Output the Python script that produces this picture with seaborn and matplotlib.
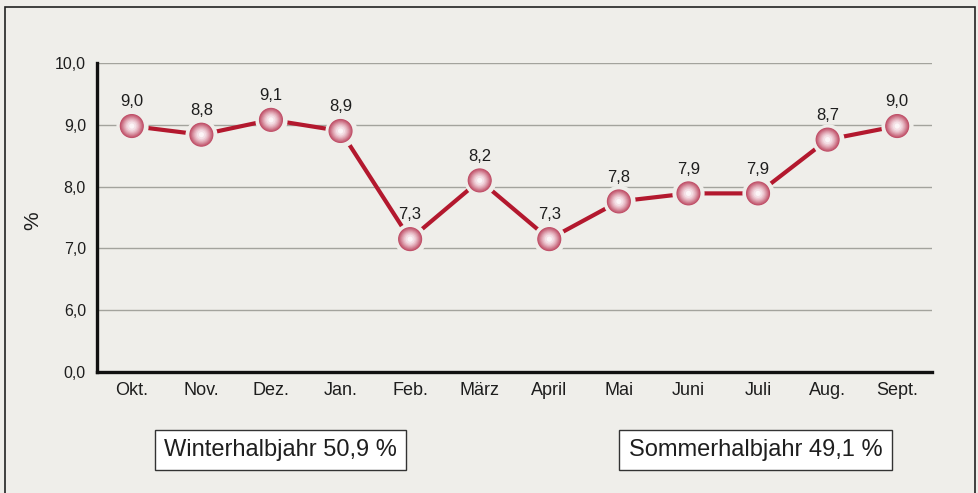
import matplotlib
matplotlib.use("Agg")
import matplotlib.pyplot as plt
import seaborn as sns
import numpy as np
import pandas as pd
from matplotlib.patches import Rectangle

# ---- data ----
months = ["Okt.", "Nov.", "Dez.", "Jan.", "Feb.", "März", "April",
          "Mai", "Juni", "Juli", "Aug.", "Sept."]
values = [8.98, 8.84, 9.08, 8.90, 7.15, 8.10, 7.15, 7.76, 7.89, 7.89, 8.76, 8.98]
value_labels = ["9,0", "8,8", "9,1", "8,9", "7,3", "8,2", "7,3",
                "7,8", "7,9", "7,9", "8,7", "9,0"]
ytick_pos = [5, 6, 7, 8, 9, 10]
ytick_labels = ["0,0", "6,0", "7,0", "8,0", "9,0", "10,0"]
box_texts = ["Winterhalbjahr 50,9 %", "Sommerhalbjahr 49,1 %"]

sns.set_style("white")
plt.rcParams["font.family"] = ["Liberation Sans", "DejaVu Sans"]

BG = "#efeeea"
TXT = "#1e1e1e"
df = pd.DataFrame({"x": np.arange(len(months)), "y": values})

fig = plt.figure(figsize=(9.79, 4.93), dpi=100, facecolor=BG)
ax = fig.add_axes([97/979, 1-372/493, (932-97)/979, (372-63)/493])
ax.set_facecolor(BG)

# gridlines
for yv in ytick_pos[1:]:
    ax.axhline(yv, color="#a3a39d", lw=1.0, zorder=1)

sns.lineplot(data=df, x="x", y="y", ax=ax, color="#b3182e", lw=3.0,
             zorder=2, legend=False)

# shaded spheres: concentric layers
n = 12
sizes = np.linspace(330, 14, n)
c_out = np.array([0.74, 0.28, 0.38])
c_in = np.array([0.99, 0.96, 0.97])
for i, s in enumerate(sizes):
    t = (i / (n - 1)) ** 1.4
    col = tuple(c_out * (1 - t) + c_in * t)
    if i == 0:
        sns.scatterplot(data=df, x="x", y="y", ax=ax, s=s, color=col,
                        edgecolor=BG, linewidth=5, zorder=3 + i, legend=False)
    else:
        sns.scatterplot(data=df, x="x", y="y", ax=ax, s=s, color=col,
                        edgecolor="none", linewidth=0, zorder=3 + i, legend=False)

for xi, yi, lab in zip(df["x"], df["y"], value_labels):
    ax.annotate(lab, (xi, yi), xytext=(0, 12), textcoords="offset points",
                ha="center", va="bottom", fontsize=12, color=TXT)

ax.set_xlim(-0.5, len(months) - 0.5)
ax.set_ylim(5, 10)
ax.set_yticks(ytick_pos)
ax.set_yticklabels(ytick_labels, fontsize=11.5, color=TXT)
ax.set_xticks(np.arange(len(months)))
ax.set_xticklabels(months, fontsize=13, color=TXT)
ax.set_xticks(np.arange(len(months) + 1) - 0.5, minor=True)
ax.tick_params(axis="x", which="major", length=0, pad=7)
ax.tick_params(axis="x", which="minor", length=6, width=2, color="#111111",
               direction="out")
ax.tick_params(axis="y", length=5, width=2, color="#111111", direction="out", pad=3)
ax.set_xlabel("")
ax.set_ylabel("%", fontsize=15, color=TXT)
ax.yaxis.set_label_coords(-0.066, 0.49)

for side in ["top", "right"]:
    ax.spines[side].set_visible(False)
for side in ["left", "bottom"]:
    ax.spines[side].set_color("#111111")
    ax.spines[side].set_linewidth(2.4)
    ax.spines[side].set_zorder(20)

# figure frame
fig.patches.append(Rectangle((5/979, -0.05), (975-5)/979, 1.05-7/493,
                             transform=fig.transFigure, fill=False,
                             edgecolor="#222222", lw=1.2, clip_on=False))

# boxes
fig.text((148+413)/2/979, 1-450/493, box_texts[0], ha="center", va="center",
         fontsize=17, color=TXT,
         bbox=dict(boxstyle="square,pad=0.4", fc="white", ec="#333333", lw=1.0))
fig.text((615+896)/2/979, 1-450/493, box_texts[1], ha="center", va="center",
         fontsize=17, color=TXT,
         bbox=dict(boxstyle="square,pad=0.4", fc="white", ec="#333333", lw=1.0))

fig.savefig("out.png", dpi=100, facecolor=BG)
